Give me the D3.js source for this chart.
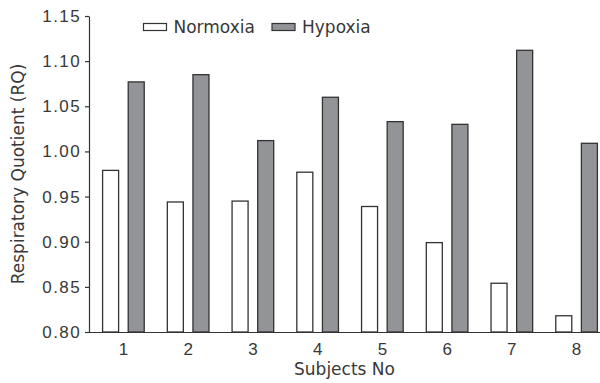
<!DOCTYPE html>
<html>
<head>
<meta charset="utf-8">
<script src="https://cdn.jsdelivr.net/npm/d3@7"></script>
<style>
  body { margin: 0; background: #fff; }
  svg { display: block; font-family: "DejaVu Sans", sans-serif; }
  .axis text { fill: #383838; font-size: 17px; }
  .y-axis text { letter-spacing: 1.4px; }
  .axis path, .axis line { stroke: #333; stroke-width: 1.2; }
  .axes-label { fill: #383838; font-size: 17px; }
</style>
</head>
<body>
<svg id="chart"></svg>
<script>
// values
const subjects = ["1", "2", "3", "4", "5", "6", "7", "8"];
const normoxia = [0.979, 0.944, 0.945, 0.977, 0.939, 0.899, 0.854, 0.818];
const hypoxia  = [1.077, 1.085, 1.012, 1.060, 1.033, 1.030, 1.112, 1.009];
const seriesNames = ["Normoxia", "Hypoxia"];
const seriesFill = ["#ffffff", "#939498"];
const yTicks = [0.80, 0.85, 0.90, 0.95, 1.00, 1.05, 1.10, 1.15];

const width = 600, height = 383;
const margin = { top: 16, right: 0, bottom: 51, left: 89 };

const svg = d3.select("#chart")
    .attr("width", width)
    .attr("height", height);

const x0 = d3.scaleBand()
    .domain(subjects)
    .range([margin.left, 611])
    .paddingInner(0.357)
    .paddingOuter(0.21);

const x1 = d3.scaleBand()
    .domain(seriesNames)
    .range([0, x0.bandwidth()])
    .paddingInner(0.375);

const y = d3.scaleLinear()
    .domain([0.80, 1.15])
    .range([height - margin.bottom, margin.top]);

const rows = subjects.map((s, i) => ({
    subject: s,
    values: [
        { key: seriesNames[0], value: normoxia[i] },
        { key: seriesNames[1], value: hypoxia[i] }
    ]
}));

// bars
svg.append("g")
    .selectAll("g")
    .data(rows)
    .join("g")
    .attr("transform", d => `translate(${x0(d.subject)},0)`)
    .selectAll("rect")
    .data(d => d.values)
    .join("rect")
    .attr("x", d => x1(d.key))
    .attr("y", d => y(d.value))
    .attr("width", x1.bandwidth())
    .attr("height", d => y(0.80) - y(d.value))
    .attr("fill", d => seriesFill[seriesNames.indexOf(d.key)])
    .attr("stroke", "#333")
    .attr("stroke-width", 1.3);

// axes
svg.append("g")
    .attr("class", "axis")
    .attr("transform", `translate(0,${y(0.80)})`)
    .call(d3.axisBottom(x0).tickSize(0).tickPadding(11))
    .call(g => g.select(".domain").attr("d", `M${margin.left},0.5H${width}`));

svg.append("g")
    .attr("class", "axis y-axis")
    .attr("transform", `translate(${margin.left},0)`)
    .call(d3.axisLeft(y).tickValues(yTicks).tickFormat(d3.format(".2f"))
        .tickSize(4).tickPadding(4).tickSizeOuter(0));

// axis titles
svg.append("text")
    .attr("class", "axes-label")
    .attr("x", (margin.left + width) / 2)
    .attr("y", 375)
    .attr("text-anchor", "middle")
    .text("Subjects No");

svg.append("text")
    .attr("class", "axes-label")
    .attr("transform", `translate(24,${(y(0.80) + y(1.15)) / 2}) rotate(-90)`)
    .attr("text-anchor", "middle")
    .text("Respiratory Quotient (RQ)");

// legend
const legendX = [143.5, 272];
const legend = svg.append("g")
    .selectAll("g")
    .data(seriesNames)
    .join("g")
    .attr("transform", (d, i) => `translate(${legendX[i]},23.5)`);

legend.append("rect")
    .attr("width", 23)
    .attr("height", 7)
    .attr("fill", (d, i) => seriesFill[i])
    .attr("stroke", "#333")
    .attr("stroke-width", 1.2);

legend.append("text")
    .attr("class", "axes-label")
    .attr("x", 30)
    .attr("y", 9)
    .text(d => d);
</script>
</body>
</html>
